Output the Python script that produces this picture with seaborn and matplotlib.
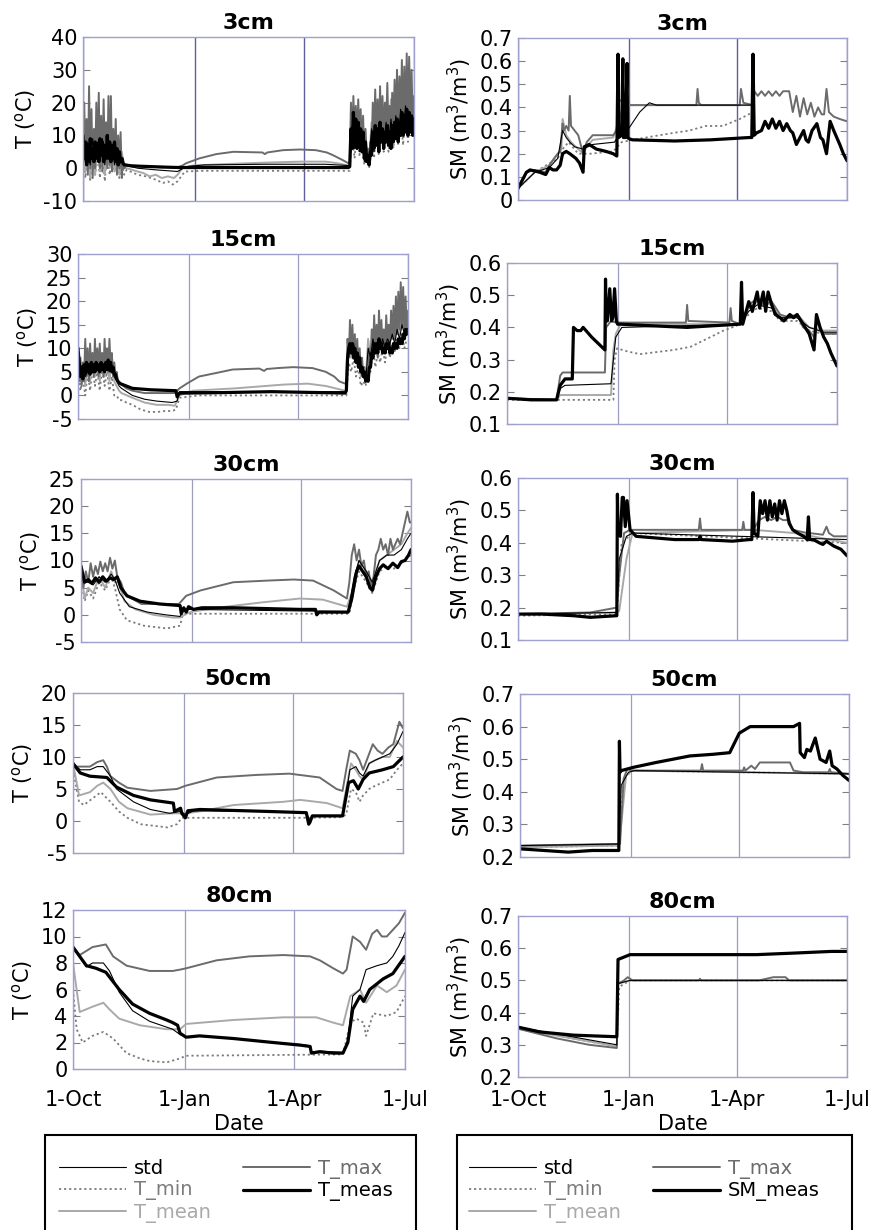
import numpy as np
import pandas as pd
import matplotlib
matplotlib.use("Agg")
import matplotlib.pyplot as plt
from matplotlib.lines import Line2D
from matplotlib.patches import Rectangle
from matplotlib.ticker import FormatStrFormatter
import seaborn as sns

# ------------------------------------------------------------------
# Axis definitions (x = days since 1 October)
# ------------------------------------------------------------------
DATE_TICKS = [0, 92, 182, 273]
DATE_LABELS = ["1-Oct", "1-Jan", "1-Apr", "1-Jul"]
DEPTHS = ["3cm", "15cm", "30cm", "50cm", "80cm"]
T_YLIMS = [(-10, 40, 10), (-5, 30, 5), (-5, 25, 5), (-5, 20, 5), (0, 12, 2)]
SM_YLIMS = [(0.0, 0.7, 0.1), (0.1, 0.6, 0.1), (0.1, 0.6, 0.1), (0.2, 0.7, 0.1), (0.2, 0.7, 0.1)]
T_LEGEND = ["std", "T_min", "T_mean", "T_max", "T_meas"]
SM_LEGEND = ["std", "T_min", "T_mean", "T_max", "SM_meas"]

# ------------------------------------------------------------------
# Soil temperature, 3 cm  (daily swings in autumn and spring)
# ------------------------------------------------------------------
T03_MAX_OCT = [10, 20, 2, 15, -2, 25, 0, 18, -3, 12, 0, 20, 2, 23, 0, 16, -1, 21, 3, 14,
               0, 22, 1, 22, -1, 12, 2, 15, -2, 10, 0, 11, -3, 3, 0]
T03_MAX_D = [36, 50, 65, 78, 82, 85, 96, 110, 124, 148, 150, 152, 165, 179, 192, 201, 206, 214, 219]
T03_MAX_V = [1, 0.5, 0.3, 0.3, 0.8, 1.5, 3.0, 4.3, 5.0, 4.8, 4.3, 4.8, 5.5, 5.7, 5.5, 4.8, 4.0, 2.5, 1.5]
T03_MAX_SPR = [2, 20, 8, 22, 10, 19, 7, 21, 9, 18, 6, 16, 4, 12, 3, 6, 2, 8, 5, 20, 9, 24, 10, 21, 8,
               25, 11, 22, 9, 20, 12, 26, 10, 19, 8, 23, 12, 27, 13, 30, 12, 28, 14, 33, 13, 31, 15,
               35, 14, 34, 16, 30, 12, 22]
T03_MEAS_OCT = [10, 3, 8, 1, 7, 2, 9, 3, 6, 2, 8, 3, 7, 2, 9, 4, 8, 2, 7, 3, 10, 3, 8, 2, 7, 3,
                8, 2, 6, 1, 5, 2, 3, 1.5, 1]
T03_MEAS_D = [35, 40, 55, 70, 80, 90, 150, 219]
T03_MEAS_V = [1.0, 0.7, 0.5, 0.3, 0.2, 0.2, 0.2, 0.2]
T03_MEAS_SPR = [0.5, 12, 6, 17, 8, 15, 6, 14, 7, 12, 5, 11, 3, 8, 2, 4, 1, 5, 4, 11, 6, 13, 7, 12,
                5, 14, 8, 12, 6, 11, 8, 13, 7, 11, 6, 13, 8, 14, 9, 15, 8, 14, 10, 17, 10, 16, 11,
                18, 10, 17, 11, 16, 10, 15]
T03_MEAN_OCT = [9, -1, 8, -3, 10, -2, 9, -1, 10, -2, 8, 0, 9, -1, 7, -2, 5, 0]
T03_MEAN_D = [36, 45, 50, 55, 60, 65, 70, 75, 78, 82, 90, 120, 150, 180, 200, 210, 219]
T03_MEAN_V = [0, -1, -1.5, -2.5, -2, -3, -2.5, -3, -2, 0, 0.8, 1.3, 1.7, 2.0, 2.0, 1.5, 0.8]
T03_MEAN_SPR = [1, 15, 7, 16, 6, 13, 3, 5, 2, 14, 6, 17, 7, 18, 8, 19, 9, 21, 9, 24, 10, 27, 11,
                28, 12, 25, 16]
T03_MIN_OCT = [7, -3, 5, -4, 6, -2, 4, -3, 5, -4, 6, -2, 4, -1, 3, -3, 2, -2]
T03_MIN_D = [36, 45, 52, 60, 66, 70, 74, 78, 80, 84, 100, 150, 219]
T03_MIN_V = [-0.5, -2, -2.5, -3.5, -4.5, -4, -5, -4, -3, -1, -0.8, -0.8, -0.8]
T03_MIN_SPR = [-0.8, 10, 3, 12, 4, 9, 1, 3, 0, 9, 3, 11, 4, 12, 5, 12, 5, 14, 6, 15, 7, 17, 7, 18,
               8, 16, 9]
T03_STD_OCT = [10, 2, 8, 1, 9, 2, 8, 2, 9, 1, 8, 2, 7, 1, 6, 1, 3, 1]
T03_STD_D = [36, 45, 60, 78, 85, 100, 150, 200, 219]
T03_STD_V = [0.8, 0, -0.5, -1, 0.5, 1.0, 1.2, 1.2, 0.8]
T03_STD_SPR = [0.5, 13, 6, 14, 5, 11, 2, 4, 3, 12, 5, 13, 6, 13, 7, 14, 7, 15, 8, 16, 9, 18, 10,
               19, 10, 17, 11]

# ------------------------------------------------------------------
# Soil temperature, 15 cm
# ------------------------------------------------------------------
T15_MAX_OCT = [11, 3, 8, 2, 7, 3, 12, 4, 10, 3, 11, 5, 9, 4, 12, 5, 10, 4, 11, 5, 9, 4, 12, 6,
               10, 5, 12, 6, 9, 4, 7, 4, 5, 3]
T15_MAX_D = [35, 40, 45, 55, 70, 80, 84, 90, 100, 115, 128, 150, 154, 156, 165, 178, 194, 205,
             212, 216, 221]
T15_MAX_V = [2.5, 1.5, 1, 0.5, 0.5, 0.5, 1.5, 2.5, 4.0, 4.8, 5.5, 5.7, 5.2, 5.6, 5.8, 6.0, 5.8,
             5.0, 4.0, 3.0, 2.5]
T15_MAX_SPR = [3, 12, 8, 16, 9, 15, 8, 13, 7, 12, 6, 10, 5, 8, 4, 6, 3, 5, 4, 10, 7, 14, 8, 17,
               9, 15, 8, 18, 10, 16, 9, 14, 10, 17, 11, 15, 10, 18, 12, 19, 12, 21, 13, 22, 14,
               24, 15, 23, 14, 21, 13, 18]
T15_MEAS_OCT = [10, 7, 4, 6, 3.5, 6.5, 4.5, 7, 5, 6.5, 4.5, 7, 5, 6.5, 5, 7, 5.5, 6.5, 5, 7,
                5.5, 6.5, 5, 7, 5.5, 7.5, 5.5, 7, 5, 6, 4.5, 4.5, 3.5, 3]
T15_MEAS_D = [35, 40, 45, 60, 81, 82, 84, 90, 120, 160, 200, 221]
T15_MEAS_V = [2.5, 2.0, 1.5, 1.2, 1.0, -0.3, 0.5, 0.5, 0.6, 0.8, 0.6, 0.5]
T15_MEAS_SPR = [1, 8, 10, 11, 9, 11, 8, 10, 7, 9, 6, 8, 5, 6, 4, 5, 3, 4, 3, 6, 6, 9, 8, 11, 9,
                11, 9, 12, 10, 11, 9, 10, 9, 11, 10, 11, 9, 10, 9, 11, 10, 11, 10, 12, 11, 12,
                11, 13, 12, 14, 13, 14]
T15_MEAN_OCT = [9, 3, 6, 2, 8, 3, 9, 4, 8, 3, 9, 4, 8, 3, 8, 3, 2, 1]
T15_MEAN_D = [36, 45, 55, 65, 75, 80, 84, 95, 130, 170, 190, 205, 221]
T15_MEAN_V = [0.5, -0.5, -1.5, -2, -2, -2.2, 0, 1.0, 1.5, 2.3, 2.5, 2.0, 1.0]
T15_MEAN_SPR = [1, 11, 8, 12, 7, 9, 4, 5, 3, 12, 8, 14, 9, 13, 10, 14, 10, 15, 11, 16, 12, 18,
                13, 19, 13, 16]
T15_MIN_OCT = [8, 1, 4, 0, 5, 1, 6, 2, 5, 1, 6, 2, 5, 1, 4, 0, 0, -1]
T15_MIN_D = [36, 40, 45, 52, 59, 66, 72, 78, 81, 84, 100, 221]
T15_MIN_V = [-1, -1.5, -2, -3, -3.5, -3.5, -3.3, -3.3, -3, -0.5, 0, 0]
T15_MIN_SPR = [0, 7, 5, 8, 4, 6, 2, 3, 2, 8, 5, 10, 6, 9, 7, 10, 7, 11, 8, 11, 9, 12, 10, 13,
               10, 12]
T15_STD_OCT = [10, 5, 6, 4, 6, 5, 7, 5, 6, 5, 7, 5, 6, 5, 6, 4, 3, 2]
T15_STD_D = [36, 45, 55, 65, 78, 82, 84, 90, 221]
T15_STD_V = [1.5, 0, -0.8, -1.2, -1.5, -1.2, 0.8, 0.8, 0.8]
T15_STD_SPR = [1, 9, 10, 11, 8, 9, 5, 4, 3, 10, 8, 12, 9, 11, 10, 12, 10, 12, 11, 13, 11, 14,
               12, 15, 13, 14]

# ------------------------------------------------------------------
# Soil temperature, 30 cm
# ------------------------------------------------------------------
T30_MEAS_D = [0, 3, 6, 9, 12, 15, 18, 21, 24, 27, 30, 33, 38, 49, 65, 82, 83, 85, 87, 89, 93,
              100, 126, 181, 194, 195, 197, 221, 224, 228, 230, 233, 236, 239, 241, 244, 247,
              250, 254, 258, 262, 265, 268, 271, 273]
T30_MEAS_V = [9, 6, 6.5, 5.8, 6.8, 6, 7, 6.2, 6.8, 6.5, 7, 5, 3.5, 2.5, 2, 1.7, 0.2, 1.3, 0.5,
              1.5, 1.0, 1.3, 1.3, 1.0, 1.0, 0, 0.5, 0.5, 3, 8, 9, 8, 7, 5, 4.5, 7, 8.5, 9.2, 8.5,
              9.5, 8.7, 9.8, 10, 11, 12]
T30_MAX_D = [0, 2, 4, 6, 8, 10, 12, 14, 16, 18, 20, 22, 24, 26, 28, 30, 33, 36, 42, 50, 81, 87,
             99, 126, 154, 176, 192, 209, 220, 222, 224, 226, 228, 230, 232, 234, 236, 238, 240,
             242, 244, 246, 248, 250, 252, 254, 256, 258, 260, 262, 264, 266, 268, 270, 272, 273]
T30_MAX_V = [9, 5, 8, 6, 9.5, 7, 9, 7.5, 9.8, 8, 9.5, 8, 10.5, 8.5, 10, 7, 6, 4, 3, 2, 2, 3.5,
             4.5, 6, 6.3, 6.5, 6.3, 4.5, 3, 6, 11, 13, 10, 12, 9, 10, 7, 8, 5, 7, 11, 12, 14, 12,
             13, 11, 14, 12, 13, 14, 13, 15, 17, 19, 17, 17]
T30_MEAN_D = [0, 3, 6, 10, 15, 20, 25, 28, 31, 36, 45, 60, 76, 82, 88, 92, 120, 150, 181, 200,
              220, 224, 230, 236, 241, 247, 253, 259, 265, 270, 273]
T30_MEAN_V = [8, 3, 5, 4, 7, 5, 8, 6, 6, 2.5, 1, 0, -0.5, -0.5, 0.3, 0.6, 1.5, 2.3, 3.0, 2.8,
              1.5, 4, 10, 8, 6, 10, 11, 12, 13, 15, 16]
T30_MIN_D = [0, 3, 6, 10, 15, 20, 25, 28, 32, 38, 52, 71, 82, 84, 88, 222, 226, 230, 236, 241,
             247, 253, 259, 265, 270, 273]
T30_MIN_V = [7, 2.5, 4.5, 3, 6, 4.5, 7, 5, 1, -1, -2, -2.5, -2, 0, 0.2, 0.2, 5, 8, 6, 4, 8, 9,
             8.5, 9.5, 10.5, 11]
T30_STD_D = [0, 3, 6, 10, 15, 20, 25, 28, 32, 40, 55, 70, 82, 85, 90, 221, 226, 230, 236, 241,
             247, 253, 259, 265, 270, 273]
T30_STD_V = [9, 6, 6, 5.5, 7, 6, 7.5, 6.5, 4, 1.5, 0.5, 0, -0.3, 1, 1, 0.6, 7, 10, 8, 6, 10, 11,
             11, 12, 14, 15]

# ------------------------------------------------------------------
# Soil temperature, 50 cm
# ------------------------------------------------------------------
T50_MEAS_D = [0, 6, 14, 28, 36, 50, 64, 83, 84, 89, 90, 93, 95, 105, 160, 193, 195, 196, 198,
              223, 228, 232, 236, 240, 245, 256, 265, 273]
T50_MEAS_V = [9, 7.5, 7, 6.8, 5.3, 4, 3.3, 2.8, 1.5, 2.0, 1.2, 0.5, 1.6, 1.8, 1.5, 1.3, -0.5,
              -0.2, 0.8, 0.8, 6, 6.3, 5, 6.5, 7.5, 8, 8.5, 10]
T50_MAX_D = [0, 3, 14, 20, 25, 28, 31, 38, 45, 64, 86, 93, 119, 152, 179, 204, 218, 223, 226,
             229, 234, 237, 240, 244, 248, 252, 256, 261, 265, 270, 273]
T50_MAX_V = [9, 8.5, 8.5, 9.2, 9.5, 8.5, 7, 6, 5.2, 4.7, 5, 5.5, 6.8, 7.2, 7.4, 6.8, 5, 4.7, 8,
             11, 10.5, 9.5, 8, 10, 12, 11, 10.5, 11.5, 12, 15.5, 14.5]
T50_STD_D = [0, 6, 14, 20, 25, 31, 36, 50, 64, 80, 89, 93, 100, 160, 193, 196, 198, 223, 226,
             229, 234, 237, 240, 245, 250, 256, 262, 268, 273]
T50_STD_V = [9, 8, 8, 8.5, 8.5, 7, 5, 3, 1.8, 1.2, 1.5, 1.0, 1.6, 1.5, 1.3, 0, 0.8, 0.8, 4, 8,
             8.5, 7.5, 7, 9, 9.5, 10, 10.5, 12, 14]
T50_MEAN_D = [0, 5, 14, 20, 25, 31, 38, 45, 64, 83, 93, 105, 133, 174, 188, 210, 223, 226, 230,
              234, 237, 240, 245, 250, 256, 262, 268, 273]
T50_MEAN_V = [9, 4, 4.5, 5.5, 6, 5, 3, 2, 1, 1.2, 1.2, 1.5, 2.5, 3, 3.3, 2.8, 2, 5, 9, 8, 7,
              6.5, 9, 9.5, 10, 10, 12.5, 11.5]
T50_MIN_D = [0, 5, 9, 16, 23, 31, 38, 45, 56, 78, 86, 90, 196, 222, 226, 230, 234, 237, 240,
             245, 250, 256, 262, 268, 273]
T50_MIN_V = [8, 3, 2.5, 3.5, 4.5, 3, 1.5, 0.5, -0.5, -1, -0.5, 0.5, 0.5, 0.6, 1, 5, 4.5, 3, 4,
             5, 5.5, 6, 6.5, 8, 9]

# ------------------------------------------------------------------
# Soil temperature, 80 cm
# ------------------------------------------------------------------
T80_MAX_D = [0, 5.5, 16, 27, 33, 44, 63, 82, 88, 93, 118, 145, 173, 195, 203, 214, 222, 225,
             230, 236, 241, 246, 250, 254, 258, 263, 268, 273]
T80_MAX_V = [9.2, 8.6, 9.2, 9.4, 8.5, 7.8, 7.4, 7.4, 7.5, 7.6, 8.2, 8.5, 8.6, 8.5, 8.2, 7.6,
             7.2, 7.5, 10, 9.6, 9, 10.2, 10.5, 10.0, 10.0, 10.5, 11.0, 11.8]
T80_MEAS_D = [0, 11, 19, 27, 38, 49, 63, 77, 82, 86, 88, 93, 104, 132, 159, 187, 195, 196, 203,
              214, 222, 226, 230, 236, 239, 244, 255, 263, 273]
T80_MEAS_V = [9.2, 7.8, 7.6, 7.3, 6.0, 4.9, 4.2, 3.7, 3.5, 3.3, 2.7, 2.4, 2.5, 2.3, 2.05, 1.8,
              1.7, 1.2, 1.3, 1.2, 1.2, 2.0, 4.5, 5.5, 5.1, 6.0, 6.8, 7.2, 8.5]
T80_STD_D = [0, 11, 16, 25, 30, 38, 49, 63, 82, 88, 93, 104, 132, 159, 187, 195, 196, 203, 222,
             226, 230, 236, 241, 250, 258, 263, 268, 273]
T80_STD_V = [9.2, 7.7, 8.0, 8.0, 7.4, 5.8, 4.4, 3.6, 3.0, 2.6, 2.4, 2.5, 2.3, 2.05, 1.85,
             1.75, 1.3, 1.35, 1.25, 2.2, 5.5, 6.0, 7.5, 7.8, 8.0, 8.5, 9.3, 10.3]
T80_MEAN_D = [0, 5.5, 16, 25, 30, 38, 55, 77, 88, 93, 132, 173, 200, 214, 222, 228, 236, 241,
              250, 258, 266, 273]
T80_MEAN_V = [8, 4.3, 4.7, 5.0, 4.5, 3.8, 3.3, 3.0, 3.0, 3.4, 3.7, 3.9, 3.9, 3.5, 3.3, 5.5, 6.0,
              5.0, 6.3, 5.8, 6.3, 7.5]
T80_MIN_D = [0, 3, 8, 16, 25, 33, 44, 55, 63, 77, 88, 93, 222, 228, 233, 239, 241, 247, 258,
             266, 273]
T80_MIN_V = [6, 3, 2, 2.5, 2.8, 2.3, 1.2, 0.8, 0.6, 0.5, 0.8, 1.0, 1.1, 3.5, 3.8, 3.5, 2.5, 4.2,
             4.0, 4.3, 5.5]

# ------------------------------------------------------------------
# Soil moisture, 3 cm
# ------------------------------------------------------------------
S03_MEAS_D = [0, 4, 7, 10, 14, 18, 23, 26, 29, 32, 35, 37, 40, 43, 48, 51, 54, 55, 59, 65, 73,
              79, 82, 83, 83.5, 86, 87, 87.5, 89, 90.5, 91, 92, 95, 130, 160, 192, 194, 195,
              196, 198, 202, 205, 208, 211, 214, 217, 220, 223, 226, 228, 231, 234, 237, 239,
              241, 244, 248, 251, 253, 256, 259, 262, 267, 270, 273]
S03_MEAS_V = [0.05, 0.09, 0.12, 0.13, 0.125, 0.12, 0.11, 0.14, 0.13, 0.13, 0.15, 0.2, 0.21,
              0.2, 0.18, 0.16, 0.12, 0.23, 0.24, 0.22, 0.21, 0.2, 0.19, 0.63, 0.27, 0.28, 0.61,
              0.27, 0.27, 0.59, 0.27, 0.265, 0.26, 0.255, 0.26, 0.27, 0.27, 0.63, 0.28, 0.29,
              0.3, 0.34, 0.31, 0.35, 0.31, 0.34, 0.3, 0.33, 0.3, 0.29, 0.24, 0.27, 0.3, 0.26,
              0.25, 0.3, 0.33, 0.27, 0.26, 0.2, 0.34, 0.3, 0.24, 0.2, 0.17]
S03_MAX_D = [0, 7, 14, 23, 26, 30, 33, 35, 37, 38, 40, 42, 43, 44, 47, 50, 54, 57, 62, 79, 82,
             84, 86, 90, 93, 148, 149, 150, 152, 184, 185, 187, 195, 196, 199, 202, 205, 208,
             211, 214, 217, 220, 225, 228, 231, 234, 237, 240, 243, 246, 249, 252, 254, 256,
             258, 262, 267, 273]
S03_MAX_V = [0.05, 0.12, 0.13, 0.12, 0.15, 0.18, 0.2, 0.21, 0.33, 0.3, 0.32, 0.3, 0.45, 0.32,
             0.3, 0.28, 0.2, 0.25, 0.28, 0.28, 0.3, 0.43, 0.43, 0.43, 0.41, 0.41, 0.48, 0.42,
             0.41, 0.41, 0.48, 0.42, 0.41, 0.47, 0.45, 0.47, 0.45, 0.47, 0.45, 0.47, 0.45, 0.47,
             0.47, 0.38, 0.45, 0.36, 0.44, 0.37, 0.42, 0.36, 0.4, 0.37, 0.37, 0.48, 0.38, 0.36,
             0.35, 0.34]
S03_MEAN_D = [0, 14, 26, 33, 36, 37, 40, 44, 50, 54, 57, 62, 79, 84, 88, 93, 195]
S03_MEAN_V = [0.05, 0.12, 0.15, 0.2, 0.22, 0.35, 0.28, 0.25, 0.22, 0.2, 0.23, 0.26, 0.27, 0.35,
              0.42, 0.41, 0.41]
S03_MIN_D = [0, 14, 33, 37, 42, 50, 60, 79, 86, 95, 129, 142, 156, 170, 184, 195]
S03_MIN_V = [0.05, 0.12, 0.18, 0.22, 0.25, 0.2, 0.2, 0.21, 0.25, 0.26, 0.29, 0.3, 0.32, 0.32,
             0.35, 0.38]
S03_STD_D = [0, 14, 26, 33, 37, 40, 43, 47, 54, 58, 62, 80, 84, 88, 92, 101, 109, 115, 195]
S03_STD_V = [0.05, 0.12, 0.14, 0.18, 0.3, 0.27, 0.25, 0.23, 0.22, 0.23, 0.24, 0.25, 0.28, 0.3,
             0.31, 0.38, 0.42, 0.41, 0.41]

# ------------------------------------------------------------------
# Soil moisture, 15 cm
# ------------------------------------------------------------------
S15_MEAS_D = [0, 20, 41, 44, 48, 54, 55, 58, 61, 63, 70, 81, 81.5, 82, 83, 85, 86.5, 87.5, 89,
              90.5, 91.5, 94, 120, 149, 170, 193, 194, 195, 200, 203, 207, 209, 212, 214, 216,
              219, 222, 226, 229, 234, 237, 240, 245, 250, 254, 256, 259, 262, 265, 268, 273]
S15_MEAS_V = [0.18, 0.175, 0.175, 0.22, 0.24, 0.24, 0.4, 0.39, 0.39, 0.4, 0.37, 0.33, 0.55,
              0.43, 0.42, 0.52, 0.42, 0.43, 0.52, 0.42, 0.41, 0.41, 0.405, 0.4, 0.405, 0.41,
              0.54, 0.41, 0.48, 0.45, 0.51, 0.46, 0.51, 0.45, 0.51, 0.47, 0.44, 0.43, 0.42, 0.44,
              0.43, 0.44, 0.41, 0.38, 0.33, 0.44, 0.4, 0.37, 0.35, 0.32, 0.28]
S15_MAX_D = [0, 41, 44, 46, 81, 82, 84, 86, 90, 148, 149, 150, 184, 185, 186, 193, 200, 207,
             212, 219, 226, 234, 240, 245, 250, 254, 256, 260, 262, 273]
S15_MAX_V = [0.18, 0.175, 0.25, 0.26, 0.26, 0.4, 0.41, 0.42, 0.415, 0.415, 0.47, 0.42, 0.415,
             0.46, 0.42, 0.41, 0.47, 0.49, 0.47, 0.48, 0.44, 0.43, 0.44, 0.4, 0.39, 0.37, 0.42,
             0.39, 0.38, 0.38]
S15_STD_D = [0, 41, 44, 48, 86, 88, 90, 95, 193, 200, 207, 219, 226, 240, 250, 262, 273]
S15_STD_V = [0.18, 0.175, 0.21, 0.22, 0.225, 0.3, 0.37, 0.4, 0.41, 0.45, 0.47, 0.46, 0.43, 0.43,
             0.4, 0.385, 0.385]
S15_MEAN_D = [0, 41, 44, 86, 87, 88, 90, 94, 193, 200, 207, 219, 226, 240, 250, 262, 273]
S15_MEAN_V = [0.18, 0.175, 0.19, 0.19, 0.25, 0.33, 0.38, 0.41, 0.41, 0.46, 0.48, 0.47, 0.43,
              0.44, 0.4, 0.39, 0.39]
S15_MIN_D = [0, 88, 89, 91, 100, 110, 138, 152, 171, 179, 190, 200, 207, 219, 226, 240, 250,
             262, 273]
S15_MIN_V = [0.175, 0.175, 0.3, 0.335, 0.325, 0.317, 0.33, 0.34, 0.375, 0.39, 0.405, 0.44, 0.46,
             0.45, 0.42, 0.42, 0.39, 0.38, 0.38]

# ------------------------------------------------------------------
# Soil moisture, 30 cm
# ------------------------------------------------------------------
S30_MEAS_D = [0, 20, 46, 60, 82, 82.5, 83, 85, 86.5, 87.5, 89, 90.5, 93, 98, 130, 150, 151, 152,
              178, 192, 194, 195, 196, 199, 201, 203, 205, 207, 209, 211, 213, 215, 217, 219,
              221, 223, 225, 228, 232, 237, 240, 241, 242, 245, 250, 253, 256, 262, 268, 273]
S30_MEAS_V = [0.18, 0.18, 0.175, 0.17, 0.175, 0.55, 0.43, 0.42, 0.54, 0.54, 0.45, 0.53, 0.44,
              0.42, 0.41, 0.41, 0.42, 0.41, 0.405, 0.41, 0.41, 0.555, 0.43, 0.42, 0.53, 0.49,
              0.53, 0.47, 0.53, 0.48, 0.52, 0.47, 0.53, 0.49, 0.53, 0.5, 0.46, 0.44, 0.43, 0.42,
              0.41, 0.48, 0.41, 0.41, 0.4, 0.395, 0.405, 0.39, 0.38, 0.36]
S30_MAX_D = [0, 60, 82, 84, 88, 93, 150, 151, 152, 186, 187, 188, 195, 200, 205, 210, 215, 220,
             225, 228, 240, 241, 242, 253, 256, 258, 262, 273]
S30_MAX_V = [0.18, 0.185, 0.2, 0.3, 0.43, 0.44, 0.44, 0.475, 0.44, 0.44, 0.465, 0.44, 0.44, 0.47,
             0.48, 0.47, 0.48, 0.47, 0.47, 0.44, 0.43, 0.47, 0.43, 0.425, 0.45, 0.43, 0.42, 0.42]
S30_MEAN_D = [0, 82, 84, 90, 95, 195, 230, 273]
S30_MEAN_V = [0.18, 0.185, 0.19, 0.35, 0.43, 0.44, 0.43, 0.4]
S30_MIN_D = [0, 82, 86, 95, 273]
S30_MIN_V = [0.175, 0.18, 0.4, 0.43, 0.4]
S30_STD_D = [0, 82, 84, 90, 95, 273]
S30_STD_V = [0.18, 0.185, 0.35, 0.42, 0.43, 0.41]

# ------------------------------------------------------------------
# Soil moisture, 50 cm
# ------------------------------------------------------------------
S50_MEAS_D = [0, 20, 40, 60, 82, 82.5, 83, 84, 94, 113, 141, 160, 174, 182, 191, 227, 232,
              232.5, 236, 238, 241, 245, 249, 254, 257, 259, 263, 268, 273]
S50_MEAS_V = [0.225, 0.22, 0.215, 0.22, 0.22, 0.555, 0.46, 0.465, 0.475, 0.49, 0.51, 0.515,
              0.52, 0.58, 0.6, 0.6, 0.61, 0.52, 0.505, 0.53, 0.525, 0.565, 0.5, 0.49, 0.525,
              0.48, 0.47, 0.45, 0.435]
S50_MAX_D = [0, 82, 83, 86, 89, 93, 150, 151, 152, 185, 186, 187, 192, 195, 199, 224, 227, 235,
             256, 257, 258, 273]
S50_MAX_V = [0.235, 0.24, 0.24, 0.44, 0.47, 0.465, 0.465, 0.485, 0.465, 0.465, 0.475, 0.465,
             0.48, 0.47, 0.49, 0.49, 0.465, 0.46, 0.46, 0.47, 0.46, 0.455]
S50_MEAN_D = [0, 82, 84, 88, 93, 273]
S50_MEAN_V = [0.23, 0.235, 0.3, 0.45, 0.465, 0.455]
S50_MIN_D = [0, 82, 86, 93, 273]
S50_MIN_V = [0.23, 0.235, 0.44, 0.465, 0.455]
S50_STD_D = [0, 82, 84, 90, 95, 273]
S50_STD_V = [0.235, 0.24, 0.42, 0.46, 0.465, 0.455]

# ------------------------------------------------------------------
# Soil moisture, 80 cm
# ------------------------------------------------------------------
S80_MEAS_D = [0, 18, 46, 82, 83, 93, 198, 230, 260, 273]
S80_MEAS_V = [0.355, 0.34, 0.33, 0.325, 0.565, 0.58, 0.58, 0.585, 0.59, 0.59]
S80_MAX_D = [0, 32, 59, 82, 83, 88, 91, 95, 150, 151, 152, 200, 212, 222, 225, 273]
S80_MAX_V = [0.35, 0.32, 0.3, 0.29, 0.49, 0.5, 0.51, 0.5, 0.5, 0.505, 0.5, 0.5, 0.51, 0.51,
             0.5, 0.5]
S80_MEAN_D = [0, 82, 83, 93, 273]
S80_MEAN_V = [0.35, 0.295, 0.49, 0.5, 0.5]
S80_MIN_D = [0, 82, 84, 93, 273]
S80_MIN_V = [0.35, 0.295, 0.48, 0.5, 0.5]
S80_STD_D = [0, 82, 83, 93, 273]
S80_STD_V = [0.355, 0.3, 0.49, 0.5, 0.5]


# ------------------------------------------------------------------
# helpers to assemble (day, value) sequences
# ------------------------------------------------------------------
def pts(days, vals):
    return np.asarray(days, float), np.asarray(vals, float)


def run(start, vals, step=1.0):
    """Values sampled every `step` days starting at `start`."""
    return start + step * np.arange(len(vals)), np.asarray(vals, float)


def join(*parts):
    return (np.concatenate([p[0] for p in parts]),
            np.concatenate([p[1] for p in parts]))


T_PANELS = [
    {"max": join(run(0, T03_MAX_OCT), pts(T03_MAX_D, T03_MAX_V), run(220, T03_MAX_SPR)),
     "meas": join(run(0, T03_MEAS_OCT), pts(T03_MEAS_D, T03_MEAS_V), run(220, T03_MEAS_SPR)),
     "mean": join(run(0, T03_MEAN_OCT, 2), pts(T03_MEAN_D, T03_MEAN_V), run(220, T03_MEAN_SPR, 2)),
     "min": join(run(0, T03_MIN_OCT, 2), pts(T03_MIN_D, T03_MIN_V), run(220, T03_MIN_SPR, 2)),
     "std": join(run(0, T03_STD_OCT, 2), pts(T03_STD_D, T03_STD_V), run(220, T03_STD_SPR, 2))},
    {"max": join(run(0, T15_MAX_OCT), pts(T15_MAX_D, T15_MAX_V), run(222, T15_MAX_SPR)),
     "meas": join(run(0, T15_MEAS_OCT), pts(T15_MEAS_D, T15_MEAS_V), run(222, T15_MEAS_SPR)),
     "mean": join(run(0, T15_MEAN_OCT, 2), pts(T15_MEAN_D, T15_MEAN_V), run(222, T15_MEAN_SPR, 2)),
     "min": join(run(0, T15_MIN_OCT, 2), pts(T15_MIN_D, T15_MIN_V), run(222, T15_MIN_SPR, 2)),
     "std": join(run(0, T15_STD_OCT, 2), pts(T15_STD_D, T15_STD_V), run(222, T15_STD_SPR, 2))},
    {"max": pts(T30_MAX_D, T30_MAX_V), "meas": pts(T30_MEAS_D, T30_MEAS_V),
     "mean": pts(T30_MEAN_D, T30_MEAN_V), "min": pts(T30_MIN_D, T30_MIN_V),
     "std": pts(T30_STD_D, T30_STD_V)},
    {"max": pts(T50_MAX_D, T50_MAX_V), "meas": pts(T50_MEAS_D, T50_MEAS_V),
     "mean": pts(T50_MEAN_D, T50_MEAN_V), "min": pts(T50_MIN_D, T50_MIN_V),
     "std": pts(T50_STD_D, T50_STD_V)},
    {"max": pts(T80_MAX_D, T80_MAX_V), "meas": pts(T80_MEAS_D, T80_MEAS_V),
     "mean": pts(T80_MEAN_D, T80_MEAN_V), "min": pts(T80_MIN_D, T80_MIN_V),
     "std": pts(T80_STD_D, T80_STD_V)},
]

SM_PANELS = [
    {"max": pts(S03_MAX_D, S03_MAX_V), "meas": pts(S03_MEAS_D, S03_MEAS_V),
     "mean": pts(S03_MEAN_D, S03_MEAN_V), "min": pts(S03_MIN_D, S03_MIN_V),
     "std": pts(S03_STD_D, S03_STD_V)},
    {"max": pts(S15_MAX_D, S15_MAX_V), "meas": pts(S15_MEAS_D, S15_MEAS_V),
     "mean": pts(S15_MEAN_D, S15_MEAN_V), "min": pts(S15_MIN_D, S15_MIN_V),
     "std": pts(S15_STD_D, S15_STD_V)},
    {"max": pts(S30_MAX_D, S30_MAX_V), "meas": pts(S30_MEAS_D, S30_MEAS_V),
     "mean": pts(S30_MEAN_D, S30_MEAN_V), "min": pts(S30_MIN_D, S30_MIN_V),
     "std": pts(S30_STD_D, S30_STD_V)},
    {"max": pts(S50_MAX_D, S50_MAX_V), "meas": pts(S50_MEAS_D, S50_MEAS_V),
     "mean": pts(S50_MEAN_D, S50_MEAN_V), "min": pts(S50_MIN_D, S50_MIN_V),
     "std": pts(S50_STD_D, S50_STD_V)},
    {"max": pts(S80_MAX_D, S80_MAX_V), "meas": pts(S80_MEAS_D, S80_MEAS_V),
     "mean": pts(S80_MEAN_D, S80_MEAN_V), "min": pts(S80_MIN_D, S80_MIN_V),
     "std": pts(S80_STD_D, S80_STD_V)},
]

# ------------------------------------------------------------------
# styling
# ------------------------------------------------------------------
sns.set_style("white")
plt.rcParams["font.family"] = ["DejaVu Sans"]
plt.rcParams["axes.unicode_minus"] = False
for key in ["text.color", "axes.labelcolor", "xtick.color", "ytick.color"]:
    plt.rcParams[key] = "black"

STYLE = {
    "min": dict(color="#7c7c7c", linewidth=1.3, linestyle=(0, (1.2, 1.6))),
    "mean": dict(color="#a9a9a9", linewidth=1.4, linestyle="-"),
    "max": dict(color="#6b6b6b", linewidth=1.4, linestyle="-"),
    "std": dict(color="black", linewidth=0.8, linestyle="-"),
    "meas": dict(color="black", linewidth=2.3, linestyle="-"),
}
DRAW_ORDER = ["min", "mean", "max", "std", "meas"]
LABEL_COLORS = ["black", "#7c7c7c", "#a9a9a9", "#6b6b6b", "black"]
SPINE_COLOR = "#a0a0d0"

W, H = 874, 1230
# panel rectangles in pixels: (left, top, right, bottom)
T_RECTS = [(83, 37, 414, 201), (78, 254, 408, 419), (81, 479, 411, 642),
           (73, 693, 403, 853), (73, 910, 405, 1069)]
SM_RECTS = [(518, 38, 847, 200), (507, 263, 837, 424), (518, 478, 847, 640),
            (520, 694, 849, 857), (518, 916, 847, 1077)]

fig = plt.figure(figsize=(W / 100, H / 100), dpi=100)
fig.patch.set_facecolor("white")


def px_axes(rect):
    l, t, r, b = rect
    return fig.add_axes([l / W, 1 - b / H, (r - l) / W, (b - t) / H])


def draw_panel(ax, series, ylim, title, ylabel, row, xpad):
    for key in DRAW_ORDER:
        d, v = series[key]
        df = pd.DataFrame({"day": d, "value": v})
        sns.lineplot(data=df, x="day", y="value", ax=ax, estimator=None, sort=False,
                     legend=False, **STYLE[key])
    lo, hi, step = ylim
    ax.set_xlim(0, 273)
    ax.set_ylim(lo, hi)
    ax.set_yticks(np.round(np.arange(lo, hi + step / 2, step), 3))
    ax.yaxis.set_major_formatter(FormatStrFormatter("%g"))
    ax.set_xticks(DATE_TICKS)
    grid_col = "#5f5fa0" if row == 0 else "#9d9dbd"
    ax.grid(axis="x", color=grid_col, linewidth=1.0 if row == 0 else 0.9)
    ax.grid(axis="y", visible=False)
    ax.set_axisbelow(True)
    ax.tick_params(axis="y", direction="in", length=5, color="#808080", left=True,
                   right=True, labelsize=15, pad=4, labelcolor="black")
    ax.tick_params(axis="x", length=0, labelsize=15, pad=xpad, labelcolor="black")
    for s in ax.spines.values():
        s.set_color(SPINE_COLOR)
        s.set_linewidth(1.0)
    ax.set_title(title, fontsize=16, fontweight="bold", pad=6, color="black")
    ax.set_ylabel(ylabel, fontsize=15, labelpad=4, color="black")
    if row == 4:
        ax.set_xticklabels(DATE_LABELS)
        ax.set_xlabel("Date", fontsize=15, labelpad=3, color="black")
    else:
        ax.set_xticklabels([])
        ax.set_xlabel("")


for i in range(5):
    axT = px_axes(T_RECTS[i])
    draw_panel(axT, T_PANELS[i], T_YLIMS[i], DEPTHS[i], r"T ($^{\mathrm{o}}$C)", i, 15)
    axS = px_axes(SM_RECTS[i])
    draw_panel(axS, SM_PANELS[i], SM_YLIMS[i], DEPTHS[i], r"SM (m$^3$/m$^3$)", i, 9.5)

# ------------------------------------------------------------------
# legends in boxed frames under each column
# ------------------------------------------------------------------
handles = [Line2D([], [], **STYLE[k]) for k in ["std", "min", "mean", "max", "meas"]]


def boxed_legend(labels, box, text_left):
    l, t, r, b = box
    fig.patches.append(Rectangle((l / W, 1 - b / H), (r - l) / W, (b - t) / H,
                                 transform=fig.transFigure, fill=False,
                                 edgecolor="black", linewidth=1.5))
    fig.legend(handles, labels, ncol=2, loc="upper left",
               bbox_to_anchor=(text_left / W, 1 - 1159 / H), bbox_transform=fig.transFigure,
               frameon=False, fontsize=14, handlelength=3.45, handletextpad=0.4,
               columnspacing=1.65, labelspacing=0.12, borderpad=0, borderaxespad=0,
               labelcolor=LABEL_COLORS)


boxed_legend(T_LEGEND, (45, 1135, 416, 1245), 59)
boxed_legend(SM_LEGEND, (457, 1135, 852, 1245), 469)

fig.savefig("out.png", dpi=100, facecolor="white")
